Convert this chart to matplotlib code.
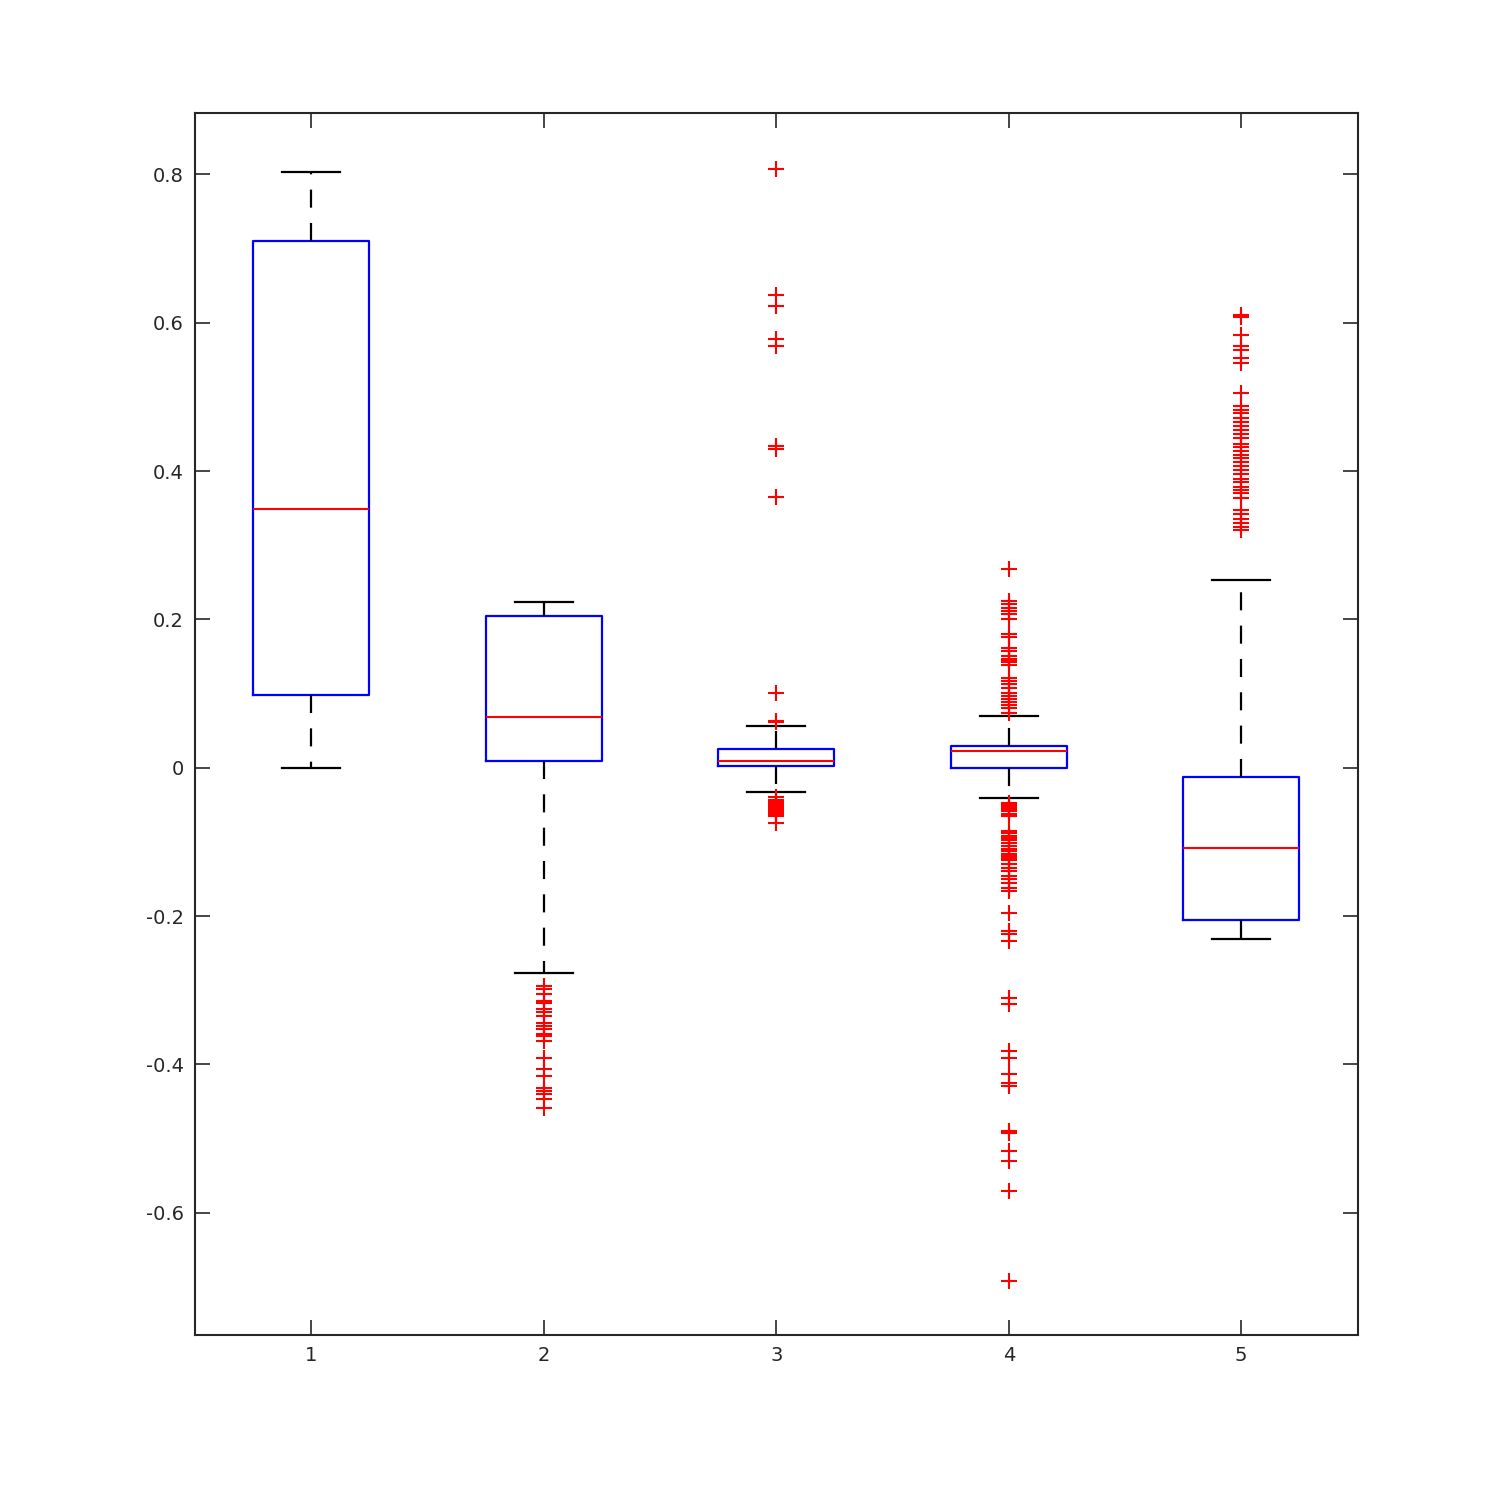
import matplotlib
matplotlib.use("Agg")
import matplotlib.pyplot as plt

plt.rcParams['lines.scale_dashes'] = False
plt.rcParams['font.family'] = ['DejaVu Sans']

positions = [1, 2, 3, 4, 5]
medians = [0.349, 0.0688, 0.0094, 0.0229, -0.108]
q1s = [0.0985, 0.0094, 0.0027, 0.0, -0.205]
q3s = [0.710, 0.205, 0.0256, 0.0297, -0.0121]
whislos = [0.0, -0.2766, -0.0324, -0.0405, -0.2307]
whishis = [0.804, 0.224, 0.0567, 0.070, 0.2536]

fliers1 = []
fliers2 = [-0.294, -0.299, -0.305, -0.314, -0.317, -0.325, -0.330, -0.335, -0.344,
           -0.348, -0.352, -0.359, -0.362, -0.368, -0.391, -0.406, -0.416,
           -0.432, -0.436, -0.440, -0.447, -0.459]
fliers3 = [0.808, 0.638, 0.623, 0.578, 0.569, 0.434, 0.430, 0.365, 0.1003, 0.063, 0.061,
           -0.040, -0.043, -0.045, -0.047, -0.049, -0.051, -0.053, -0.055, -0.057,
           -0.059, -0.061, -0.063, -0.065, -0.074]
fliers4 = [0.268, 0.225, 0.221, 0.216, 0.211, 0.207, 0.201, 0.181, 0.176,
           0.162, 0.158, 0.151, 0.147, 0.145, 0.142, 0.138, 0.121, 0.117, 0.113,
           0.108, 0.101, 0.097, 0.093, 0.088, 0.084, 0.080, 0.074,
           -0.047, -0.050, -0.053, -0.056, -0.058, -0.062, -0.065,
           -0.085, -0.088, -0.092, -0.095, -0.098, -0.102, -0.105, -0.109, -0.112,
           -0.116, -0.119, -0.122, -0.125, -0.130, -0.135, -0.139, -0.146, -0.150,
           -0.156, -0.162, -0.166, -0.196, -0.220, -0.224, -0.233,
           -0.310, -0.319, -0.382, -0.391, -0.413, -0.425, -0.429,
           -0.490, -0.493, -0.517, -0.530, -0.571, -0.692]
fliers5 = [0.610, 0.608, 0.583, 0.569, 0.563, 0.552, 0.546, 0.506,
           0.488, 0.483, 0.478, 0.472, 0.466, 0.461, 0.455, 0.450, 0.445,
           0.437, 0.432, 0.427, 0.422, 0.418, 0.412, 0.407, 0.401, 0.396,
           0.390, 0.385, 0.379, 0.374, 0.370, 0.364,
           0.347, 0.342, 0.336, 0.330, 0.325, 0.320]
fliers = [fliers1, fliers2, fliers3, fliers4, fliers5]

tick_labels = ['1', '2', '3', '4', '5']
yticks = [-0.6, -0.4, -0.2, 0, 0.2, 0.4, 0.6, 0.8]
ytick_labels = ['-0.6', '-0.4', '-0.2', '0', '0.2', '0.4', '0.6', '0.8']

stats = []
for i in range(len(positions)):
    stats.append(dict(med=medians[i], q1=q1s[i], q3=q3s[i],
                      whislo=whislos[i], whishi=whishis[i], fliers=fliers[i]))

fig = plt.figure(figsize=(15, 15), dpi=100)
ax = fig.add_axes([0.13, 0.11, 0.775, 0.815])

ax.bxp(stats, positions=positions, widths=0.5, showfliers=True,
       boxprops=dict(color='#0000ff', linewidth=1.6),
       medianprops=dict(color='#ff0000', linewidth=1.5),
       whiskerprops=dict(color='black', linewidth=1.6, linestyle=(0, (13, 11))),
       capprops=dict(color='black', linewidth=1.6),
       capwidths=0.25,
       flierprops=dict(marker='+', markeredgecolor='#ff0000', markersize=11,
                       markeredgewidth=1.5, linestyle='none'))

ax.set_xlim(0.5, 5.5)
ax.set_ylim(-0.765, 0.8836)
ax.set_xticks(positions)
ax.set_xticklabels(tick_labels)
ax.set_yticks(yticks)
ax.set_yticklabels(ytick_labels)

for s in ax.spines.values():
    s.set_color('#262626')
    s.set_linewidth(1.5)
ax.tick_params(axis='both', direction='in', length=11, width=1.2, color='#262626',
               labelsize=14, labelcolor='#262626', top=True, right=True, pad=8)

fig.savefig('out.png', dpi=100)
